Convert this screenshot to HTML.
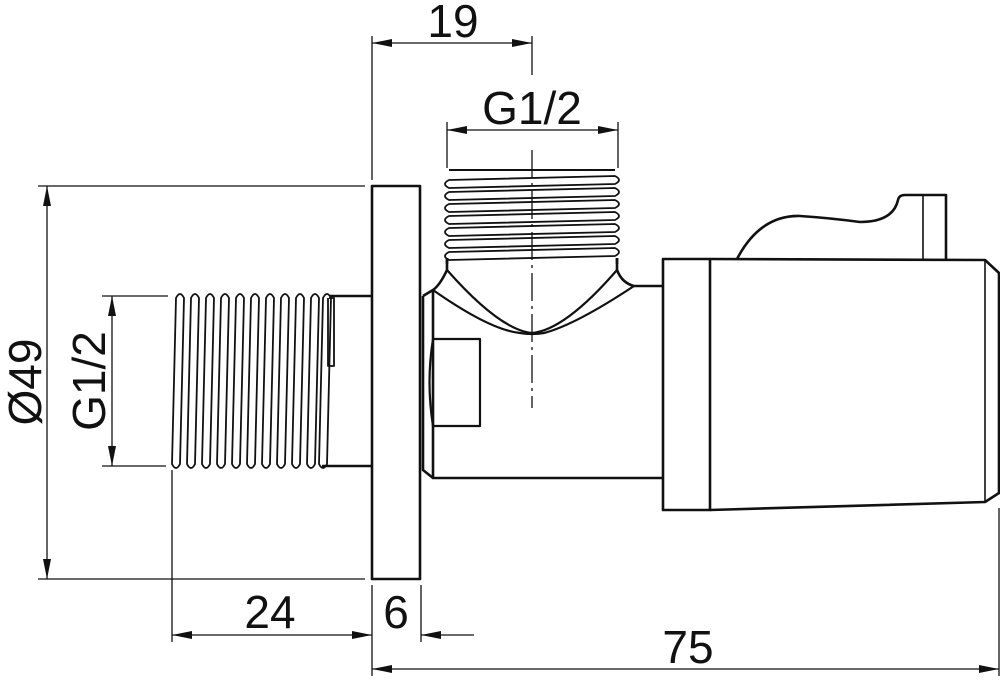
<!DOCTYPE html>
<html><head><meta charset="utf-8"><style>html,body{margin:0;padding:0;background:#fff}svg{display:block}text{font-family:"Liberation Sans",sans-serif;fill:#111}</style></head><body>
<svg width="1000" height="680" viewBox="0 0 1000 680" xmlns="http://www.w3.org/2000/svg">
<defs>
<marker id="a" viewBox="0 0 20 8" refX="20" refY="4" markerWidth="20" markerHeight="8" markerUnits="userSpaceOnUse" orient="auto-start-reverse"><path d="M0,0 L20,4 L0,8 Z" fill="#111"/></marker>
</defs>
<g stroke="#111" stroke-width="1.3" fill="none">
<line x1="38" y1="186" x2="365" y2="186"/>
<line x1="38" y1="579" x2="365" y2="579"/>
<line x1="102" y1="296" x2="168" y2="296"/>
<line x1="102" y1="466" x2="166" y2="466"/>
<line x1="372" y1="36" x2="372" y2="180"/>
<line x1="532" y1="36" x2="532" y2="75"/>
<line x1="447" y1="122" x2="447" y2="168"/>
<line x1="618" y1="122" x2="618" y2="168"/>
<line x1="172" y1="470" x2="172" y2="642"/>
<line x1="372" y1="585" x2="372" y2="676"/>
<line x1="421" y1="585" x2="421" y2="642"/>
<line x1="999" y1="508" x2="999" y2="676"/>
<line x1="47" y1="186" x2="47" y2="579" marker-start="url(#a)" marker-end="url(#a)"/>
<line x1="112" y1="296" x2="112" y2="466" marker-start="url(#a)" marker-end="url(#a)"/>
<line x1="372" y1="43" x2="532" y2="43" marker-start="url(#a)" marker-end="url(#a)"/>
<line x1="447" y1="130" x2="618" y2="130" marker-start="url(#a)" marker-end="url(#a)"/>
<line x1="172" y1="635" x2="372" y2="635" marker-start="url(#a)" marker-end="url(#a)"/>
<line x1="474" y1="635" x2="421" y2="635" marker-end="url(#a)"/>
<line x1="372" y1="669" x2="999" y2="669" marker-start="url(#a)" marker-end="url(#a)"/>
<line x1="532" y1="150" x2="532" y2="408" stroke-dasharray="28,5,3,5"/>
</g>
<g stroke="#111" stroke-width="2.6" fill="none" stroke-linejoin="round">
<rect x="372" y="186" width="48" height="393"/>
<line x1="420" y1="190" x2="420" y2="575" stroke-width="1.5"/>
<line x1="330" y1="296" x2="372" y2="296"/>
<line x1="322" y1="466" x2="372" y2="466"/>
<path d="M423 296 L433 290 Q440 285 447 270 L447 258 M617 258 L617 270 Q622 283 634 286 L663 286"/>
<path d="M433 290 L433 478 L663 478"/>
<path d="M423 296 L423 470 L433 478"/>
<path d="M433 290 Q490 330 520 333 Q532 335 544 333 Q575 325 634 286" stroke-width="2.2"/>
<path d="M447 270 Q500 330 532 333 Q565 330 617 270" stroke-width="2.2"/>
<path d="M433 339 L480 339 L480 426 L433 426 Q426 382 433 339" stroke-width="2.2"/>
<path d="M447 258 L447 264 M617 258 L617 264"/>
<line x1="449" y1="170" x2="615" y2="170" stroke-width="2"/>
<g stroke-width="1.8">
<path d="M449,180 L615,176 Q623,180 615,184 L449,188 Q441,184 449,180 Z"/>
<path d="M449,192 L615,188 Q623,192 615,196 L449,200 Q441,196 449,192 Z"/>
<path d="M449,204 L615,200 Q623,204 615,208 L449,212 Q441,208 449,204 Z"/>
<path d="M449,216 L615,212 Q623,216 615,220 L449,224 Q441,220 449,216 Z"/>
<path d="M449,228 L615,224 Q623,228 615,232 L449,236 Q441,232 449,228 Z"/>
<path d="M449,240 L615,236 Q623,240 615,244 L449,248 Q441,244 449,240 Z"/>
<path d="M449,252 L615,248 Q623,252 615,256 L449,260 Q441,256 449,252 Z"/>
</g>
<g stroke-width="1.8">
<path d="M176,298 Q180,290 184,298 L180,464 Q176,472 172,464 Z"/>
<path d="M191,298 Q195,290 199,298 L195,464 Q191,472 187,464 Z"/>
<path d="M206,298 Q210,290 214,298 L210,464 Q206,472 202,464 Z"/>
<path d="M221,298 Q225,290 229,298 L225,464 Q221,472 217,464 Z"/>
<path d="M236,298 Q240,290 244,298 L240,464 Q236,472 232,464 Z"/>
<path d="M251,298 Q255,290 259,298 L255,464 Q251,472 247,464 Z"/>
<path d="M266,298 Q270,290 274,298 L270,464 Q266,472 262,464 Z"/>
<path d="M281,298 Q285,290 289,298 L285,464 Q281,472 277,464 Z"/>
<path d="M296,298 Q300,290 304,298 L300,464 Q296,472 292,464 Z"/>
<path d="M311,298 Q315,290 319,298 L315,464 Q311,472 307,464 Z"/>
<path d="M323,298 Q327,290 331,298 L327,464 Q323,472 319,464 Z"/>
<path d="M329 298 L334 298 L334 366 L328 366 L328 298"/>
</g>
<path d="M663 259 L710 259 L710 510 L663 510 Z"/>
<path d="M710 259 L985 260 L999 273 L999 493 L985 502 L710 510"/>
<line x1="985" y1="260" x2="985" y2="502" stroke-width="1.6"/>
<path d="M737 259 Q760 215 800 216 Q830 218 860 222 Q893 222 898 200 Q899 195 905 195 L946 195 L946 259"/>
<line x1="923" y1="196" x2="923" y2="259" stroke-width="1.6"/>
</g>
<text x="453" y="37" font-size="46" text-anchor="middle">19</text>
<text x="532" y="124" font-size="46" text-anchor="middle">G1/2</text>
<text x="270" y="628" font-size="46" text-anchor="middle">24</text>
<text x="396" y="628" font-size="46" text-anchor="middle">6</text>
<text x="688" y="663" font-size="46" text-anchor="middle">75</text>
<text transform="translate(41,382) rotate(-90)" font-size="46" text-anchor="middle">Ø49</text>
<text transform="translate(105,381) rotate(-90)" font-size="46" text-anchor="middle">G1/2</text>
</svg>
</body></html>
